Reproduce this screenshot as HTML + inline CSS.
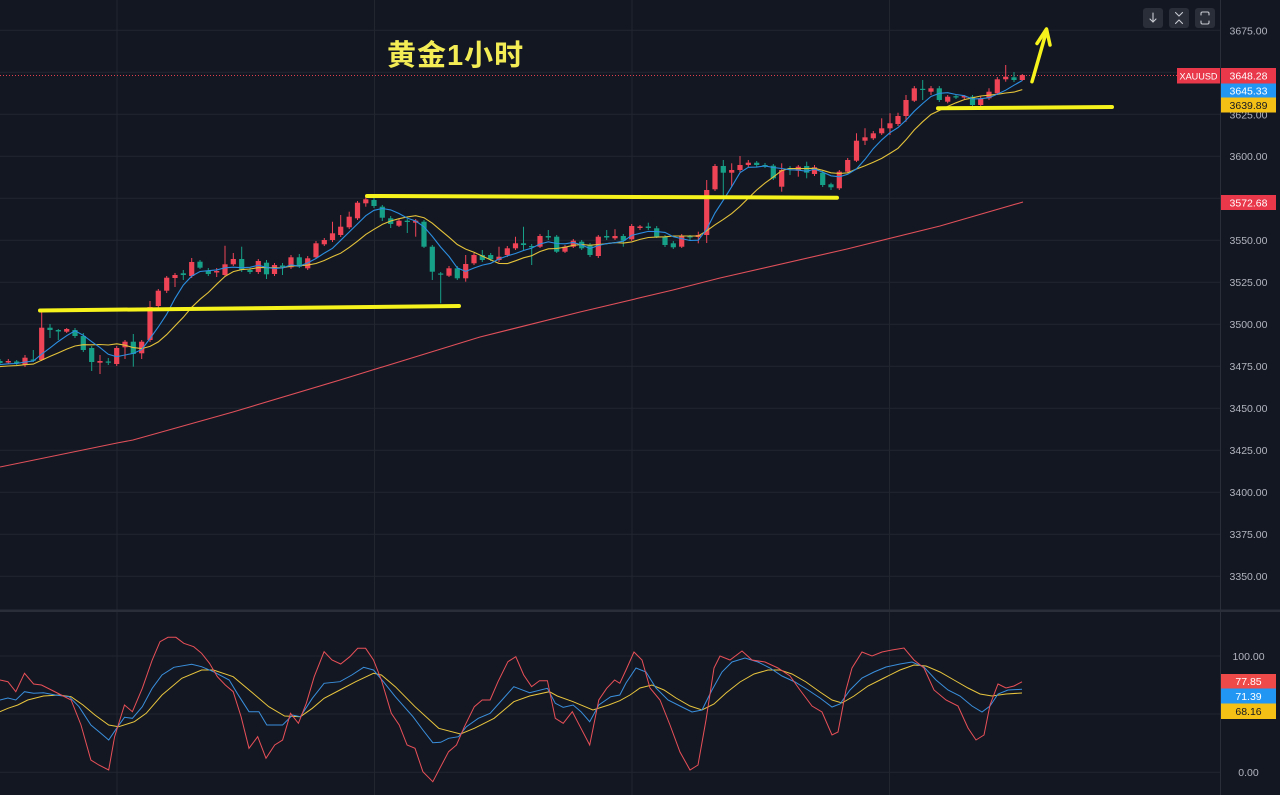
<!DOCTYPE html>
<html><head><meta charset="utf-8">
<style>
html,body{margin:0;padding:0;background:#131722;width:1280px;height:795px;overflow:hidden}
svg{display:block}
.ax{font-family:"Liberation Sans",sans-serif;font-size:10.5px;fill:#b2b5be;text-anchor:middle}
.lb{font-family:"Liberation Sans",sans-serif;font-size:10.5px;text-anchor:middle}
</style></head>
<body>
<svg id="s" width="1280" height="795" viewBox="0 0 1280 795" xmlns="http://www.w3.org/2000/svg">
<rect width="1280" height="795" fill="#131722"/>
<!-- grid main -->
<g stroke="#22262f" stroke-width="1">
<line x1="0" x2="1220" y1="30.3" y2="30.3"/><line x1="0" x2="1220" y1="72.3" y2="72.3"/>
<line x1="0" x2="1220" y1="114.3" y2="114.3"/><line x1="0" x2="1220" y1="156.3" y2="156.3"/>
<line x1="0" x2="1220" y1="198.3" y2="198.3"/><line x1="0" x2="1220" y1="240.3" y2="240.3"/>
<line x1="0" x2="1220" y1="282.3" y2="282.3"/><line x1="0" x2="1220" y1="324.3" y2="324.3"/>
<line x1="0" x2="1220" y1="366.3" y2="366.3"/><line x1="0" x2="1220" y1="408.3" y2="408.3"/>
<line x1="0" x2="1220" y1="450.3" y2="450.3"/><line x1="0" x2="1220" y1="492.3" y2="492.3"/>
<line x1="0" x2="1220" y1="534.3" y2="534.3"/><line x1="0" x2="1220" y1="576.3" y2="576.3"/>
<line x1="117" x2="117" y1="0" y2="795"/><line x1="374.5" x2="374.5" y1="0" y2="795"/>
<line x1="632" x2="632" y1="0" y2="795"/><line x1="889.5" x2="889.5" y1="0" y2="795"/>
<line x1="0" x2="1220" y1="656" y2="656"/><line x1="0" x2="1220" y1="714" y2="714"/>
<line x1="0" x2="1220" y1="772.3" y2="772.3"/>
</g>
<!-- pane separator & axis border -->
<rect x="0" y="609.5" width="1280" height="2.5" fill="#2a2e39"/>
<line x1="1220.5" x2="1220.5" y1="0" y2="795" stroke="#2a2e39" stroke-width="1"/>

<!-- long red MA -->
<polyline fill="none" stroke="#e0505a" stroke-width="1.1" points="0,467 117,443 133,440 233,412 340,380 480,337 580,312 673,290 720,278 847,249 940,226 1023,202"/>

<!-- dotted price line -->
<line x1="0" x2="1177" y1="75.5" y2="75.5" stroke="#e0404e" stroke-width="1" stroke-dasharray="1 2"/>

<g id="cg"></g>

<!-- hand-drawn yellow lines -->
<g stroke="#f6f21c" stroke-linecap="round" fill="none">
<line x1="40" y1="310.5" x2="459" y2="306" stroke-width="4"/>
<line x1="367" y1="196" x2="837" y2="197.7" stroke-width="4"/>
<line x1="938" y1="108.3" x2="1112" y2="107" stroke-width="4"/>
<line x1="1032" y1="81.7" x2="1046.5" y2="31" stroke-width="3.5"/>
<polyline points="1037,43.5 1046.5,29 1050,45" stroke-width="3.5" stroke-linejoin="round"/>
</g>

<!-- title -->
<text x="387" y="65" font-family="'Liberation Sans','Noto Sans CJK SC',sans-serif" font-weight="bold" font-size="29" letter-spacing="1" fill="#f3ec55">黄金1小时</text>

<!-- indicator lines -->
<polyline fill="none" stroke="#e8c53e" stroke-width="1" points="0,711.7 7.9,708.3 17.8,705 27.7,700 43.5,696 59.3,695 71.1,696.7 83,705 94.9,715 108.7,725 118.6,726.7 134.4,721.7 146.2,713.3 162,695 181.8,678.3 201.6,670 213.4,670 233.2,676.7 253,693.3 268.8,706.7 284.6,716 300.4,716.7 312.3,708.3 324.1,698.3 339.9,690 355.7,681.7 373.5,673.3 381.4,675 395.3,686.7 415,706.7 438.7,728.3 460.5,734 474.3,728.3 494.1,718.3 513.8,701.7 529.6,696 549.4,691.7 557.3,696 573.1,701.7 592.9,710 608.7,705 619.8,700.7 630,695 640,688 652,685 664,690 676,698 690,706 702,710 714,704 726,693 740,682 754,674 768,670 780,670 792,674 806,682 820,692 832,700 842,703 854,696 868,686 884,678 900,670 914,665 926,666 940,672 954,680 968,688 980,694 992,696 1006,694 1022,693"/>
<polyline fill="none" stroke="#3a8fdc" stroke-width="1" points="0,700 7.9,698 15.8,700 24.5,691.7 33.6,693.3 43.5,692.7 55.3,695 69.2,696.7 79,706.7 90.9,725 100.8,733.3 108.7,740 116.6,728.3 124.5,717.3 132.4,718.3 142.3,706.7 152.2,688.3 162,675 173.9,667.3 191.7,664.3 201.6,666.7 213.4,671.7 229.2,680 237.2,693.3 249,711.7 258.9,711.7 266.8,725 282.6,725 292.5,715 300.4,716.7 312.3,698.3 324.1,683.3 339.9,681.7 351.8,675 363.6,667.3 373.5,670 383.4,681.7 395.3,696.7 413,716.7 422.9,730 432.8,742.7 440.7,742.3 448.6,738.3 458.5,736.7 466.4,726.7 478.3,718.3 490.1,713.3 502,700 513.8,686.7 529.6,692.7 547.4,688.3 555.3,703.3 563.2,707.3 573.1,705 581,711.7 589.7,721.7 598.8,705 610.7,696.7 619.8,695 626,683 636,668 646,672 656,688 668,700 680,706 692,712 702,710 712,690 722,672 732,662 745,658 758,662 770,668 782,676 795,682 808,690 820,698 832,707 840,704 850,690 862,678 874,672 886,667 900,664 912,662 924,667 936,680 948,690 960,696 972,706 982,712 990,706 998,694 1008,690 1022,689.3"/>
<polyline fill="none" stroke="#e85058" stroke-width="1" points="0,680 7.9,681.7 15.8,691.7 24.5,673.3 33.6,684 41.5,685 51.4,690 63.2,696 71.1,700 81,725 90.9,760 98.8,765 108.7,770 114.6,736.7 124.5,705 132.4,711.7 142.3,688.3 152.2,660 160,641.7 168,637.3 175.9,637.3 183.8,643.3 193.7,646.7 201.6,653.3 209.5,663.3 217.4,676.7 225.3,685 233.2,691.7 241.1,716.7 249,748.3 257.7,736.7 266,758.3 274.7,745 282.6,740 290.5,713.3 298.4,723.3 306.3,703.3 314.2,676.7 324.1,651.7 332,660 340.7,664 349.8,656.7 357.7,648.3 365.6,648.3 373.5,660 381.4,680 391.3,713.3 399.2,725 407.1,745 415,748.3 422.9,771.7 432.8,781.7 440.7,766.7 448.6,751.7 456.5,745 464.4,726.7 474.3,706.7 482.2,700 490.1,700 498,681.7 507.9,661.7 515.8,656.7 523.7,675 531.6,686.7 539.5,680.7 547.4,680.7 555.3,718.3 563.2,723.3 572.3,711.7 581,728.3 589.7,745 598.8,700 606.7,688.3 614.6,680 619.8,683.3 626,670 634,652 642,660 650,688 660,700 670,725 680,752 690,770 698,765 706,720 714,668 720,656 730,660 742,651 752,660 765,662 778,668 790,676 800,690 812,706 822,712 832,735 838,732 846,690 852,668 862,652 872,656 882,652 892,650 904,648 914,660 924,668 934,690 946,700 958,706 968,728 976,740 984,735 990,705 998,684 1006,688 1014,686 1022,681.8"/>

<!-- toolbar -->
<g>
<rect x="1143" y="8" width="20" height="20" rx="3" fill="#2a2e39"/>
<rect x="1169" y="8" width="20" height="20" rx="3" fill="#2a2e39"/>
<rect x="1195" y="8" width="20" height="20" rx="3" fill="#2a2e39"/>
<g stroke="#c8cad0" stroke-width="1.1" fill="none" stroke-linecap="round">
<line x1="1153" y1="13" x2="1153" y2="22"/><polyline points="1150,19 1153,22 1156,19"/>
<polyline points="1175.5,12.5 1179,16 1182.5,12.5"/><polyline points="1175.5,23.5 1179,20 1182.5,23.5"/>
<path d="M1201,15 v-1.5 a1.5,1.5 0 0 1 1.5,-1.5 h5 a1.5,1.5 0 0 1 1.5,1.5 v1.5 M1209,21 v1.5 a1.5,1.5 0 0 1 -1.5,1.5 h-5 a1.5,1.5 0 0 1 -1.5,-1.5 v-1.5"/>
</g>
</g>

<!-- axis labels main -->
<text class="ax" x="1248.5" y="34.5">3675.00</text>
<text class="ax" x="1248.5" y="118.5">3625.00</text>
<text class="ax" x="1248.5" y="160">3600.00</text>
<text class="ax" x="1248.5" y="244">3550.00</text>
<text class="ax" x="1248.5" y="286">3525.00</text>
<text class="ax" x="1248.5" y="328">3500.00</text>
<text class="ax" x="1248.5" y="370">3475.00</text>
<text class="ax" x="1248.5" y="412">3450.00</text>
<text class="ax" x="1248.5" y="454">3425.00</text>
<text class="ax" x="1248.5" y="496">3400.00</text>
<text class="ax" x="1248.5" y="538">3375.00</text>
<text class="ax" x="1248.5" y="580">3350.00</text>

<!-- price tags -->
<rect x="1177" y="68" width="43" height="15.5" fill="#e8384a"/>
<text x="1198.5" y="79.5" fill="#ffffff" font-family="'Liberation Sans',sans-serif" font-size="9.5" text-anchor="middle" textLength="38" lengthAdjust="spacingAndGlyphs">XAUUSD</text>
<rect x="1221" y="68" width="55" height="15.5" fill="#e8384a"/>
<text class="lb" x="1248.5" y="79.5" fill="#ffffff">3648.28</text>
<rect x="1221" y="83.5" width="55" height="14" fill="#2196f3"/>
<text class="lb" x="1248.5" y="94.5" fill="#ffffff">3645.33</text>
<rect x="1221" y="97.5" width="55" height="15" fill="#f5c016"/>
<text class="lb" x="1248.5" y="109" fill="#131722">3639.89</text>
<rect x="1221" y="195" width="55" height="15" fill="#e8384a"/>
<text class="lb" x="1248.5" y="206.5" fill="#ffffff">3572.68</text>

<!-- indicator axis -->
<text class="ax" x="1248.5" y="660">100.00</text>
<text class="ax" x="1248.5" y="776">0.00</text>
<rect x="1221" y="674" width="55" height="14.5" fill="#ef4a4a"/>
<text class="lb" x="1248.5" y="685" fill="#ffffff">77.85</text>
<rect x="1221" y="688.5" width="55" height="15" fill="#2196f3"/>
<text class="lb" x="1248.5" y="700" fill="#ffffff">71.39</text>
<rect x="1221" y="703.5" width="55" height="15.5" fill="#f5c016"/>
<text class="lb" x="1248.5" y="715" fill="#131722">68.16</text>
</svg>
<script>
(function(){
var D=[[0,361,363,359,364,0],[8.3,361,362.5,359,364,1],[16.7,361.5,363.5,360,365,0],[25,357.7,365,355,367,1],[33.3,359.5,360.5,350,362,0],[41.7,327.7,360,311,361,1],[50,327.7,330,324,338,0],[58.3,330,331.5,329,340,0],[66.7,329,331.7,328,333,1],[75,330,336,328,338,0],[83.3,336,350,333,352,0],[91.7,348,362,346,371,0],[100,361,362.7,355,374,1],[108.3,361.5,362.5,358,365,0],[116.7,348,364,346,366,1],[125,341.7,347.3,340,359,1],[133.3,341.7,354,334,366.7,0],[141.7,341.7,353.3,340,359,1],[150,307,340,301,342,1],[158.3,290.7,306,289,308,1],[166.7,277.7,290.7,276,293,1],[175,275,278,273,287,1],[183.3,273.3,275,270,280,0],[191.7,262,276,258,278,1],[200,261.7,267.7,260,269,0],[208.3,270.7,274,268,276,0],[216.7,271,272.5,268,277,1],[225,264.3,275,245.7,277,1],[233.3,259,264.3,253,266,1],[241.7,259,270,246.7,272,0],[250,270,272,268,274,0],[258.3,261,272,259,274,1],[266.5,262.7,274.3,260,279,0],[274.5,265,274,263,276,1],[282.5,265.5,267,263,275,0],[291,257.3,267.3,255,269,1],[299.3,257.3,266.7,254,268,0],[307.7,258.3,268.3,256,270,1],[316,243.3,257.3,241,259,1],[324.3,240,244.3,238,246,1],[332.5,233.3,240,221.7,242,1],[340.7,226.7,235,215,237,1],[349.2,216.7,227.3,211.7,229,1],[357.5,202.7,218.3,201,220,1],[365.8,199.3,203.3,196,206.7,1],[374,200,206,198,208,0],[382.3,206.7,217.7,205,221,0],[390.7,218.3,224,216,228,0],[399,220.7,225.7,219,227,1],[407.3,220.7,222,219,233,0],[415.7,220.7,222.7,219,236.7,1],[424,221.7,246.7,220,248,0],[432.3,246.7,271.7,245,280,0],[440.7,273.5,274.5,272,303.3,0],[449,268.3,275.7,266,277,1],[457.3,268.3,278.3,266,280,0],[465.7,264,278.3,255,281.7,1],[474,255,263.3,253,265,1],[482.3,255,260,250,262,0],[490.7,255,259.3,253,261,0],[499,256.7,260,246.7,262,1],[507.3,248.3,255,246,257,1],[515.5,243.3,248.3,236.7,250,1],[523.5,243.3,245,226.7,250,0],[531.7,246,247.3,244,265,0],[540,236,246.7,234,248,1],[548.3,236,237.5,230,240,0],[556.7,236.7,251.7,235,253,0],[565,246.7,251.7,245,253,1],[573.3,240.7,246.7,239,248,1],[581.7,241.7,248.3,240,250,0],[590,245,255,243,257,0],[598.3,236.7,256,235,258,1],[606.7,236,237.5,230,240,0],[615,236,238.3,229.3,240,1],[623.3,236,240.7,234,246.7,0],[631.7,226,239.3,224,241,1],[640,226.5,228,225,230,1],[648.3,226.5,228,222.7,230,0],[656.7,228.3,236.7,226,238,0],[665,236.7,245,235,247,0],[673.3,243.3,247.3,241,249,0],[681.7,236,246.7,234,248,1],[690,236,237.5,235,240,0],[698.3,235,237,231.7,243.3,1],[706.7,190,235,180,243,1],[715,166,189.3,164,191,1],[723.3,166,172.7,160,200,0],[731.7,170,172.7,163.3,186.7,1],[740,165,170,156,172,1],[748.3,162.7,165,160,167,1],[756.7,162.7,165,161,167,0],[765,165,166.7,163,168,0],[773.3,165.7,178.3,164,180,0],[781.7,170,186.7,163.3,191.7,1],[790,168,169,166,175,0],[798.3,166.7,170.7,165,176.7,1],[806.7,166,172.7,161.7,178.3,0],[814.5,167.3,174,165,176,1],[822.7,172.7,185,171,187,0],[831,184.3,187.3,182.7,190,0],[839.3,171.7,188.3,170,190,1],[847.7,160,171.7,158,173,1],[856.5,140.7,160.7,133.3,162,1],[865,137.3,140.7,128.3,145,1],[873.3,133.3,138.3,131,140,1],[881.7,128.3,133.3,118.3,135,1],[890,123.3,128.3,113.3,135,1],[898,116,124,112.7,126,1],[906,100,116,95,121.7,1],[914.3,88.3,100.7,86,102,1],[922.7,88.8,90,80,100,0],[931,88.3,91.7,86,95,1],[939.3,88.3,100,86,102,0],[947.7,96.7,101.7,95,103.3,1],[956,96.2,97.5,95,99,0],[964.3,96,97.5,95,99,1],[972.5,96.7,105,95,107,0],[980.7,98.3,105,96,107,1],[989,91.7,98.3,88.3,100,1],[997.3,79.3,93.3,77,95,1],[1005.7,76.7,79.3,65,81.7,1],[1014,77.3,80,72,82,0],[1022.3,75,80,74,81,1]];
var h='',cl=[];
for(var i=0;i<D.length;i++){var d=D[i];var col=d[5]?'#ef4456':'#17a088';
h+='<line x1="'+d[0]+'" x2="'+d[0]+'" y1="'+d[3]+'" y2="'+d[4]+'" stroke="'+col+'" stroke-width="1"/>';
var bh=Math.max(d[2]-d[1],1.2);
h+='<rect x="'+(d[0]-2.6)+'" y="'+d[1]+'" width="5.2" height="'+bh+'" fill="'+col+'"/>';
cl.push(d[5]?d[1]:d[2]);}
function sma(n,pad){var p=[];for(var i=0;i<D.length;i++){var s=0;for(var k=i-n+1;k<=i;k++){s+=(k<0?pad:cl[k]);}p.push(D[i][0]+','+(s/n).toFixed(1));}return p.join(' ');}
h+='<polyline fill="none" stroke="#e3c23a" stroke-width="1.1" points="'+sma(10,367)+'"/>';
h+='<polyline fill="none" stroke="#2b8ee0" stroke-width="1.1" points="'+sma(5,365)+'"/>';
document.getElementById('cg').innerHTML=h;
})();
</script>
</body></html>
